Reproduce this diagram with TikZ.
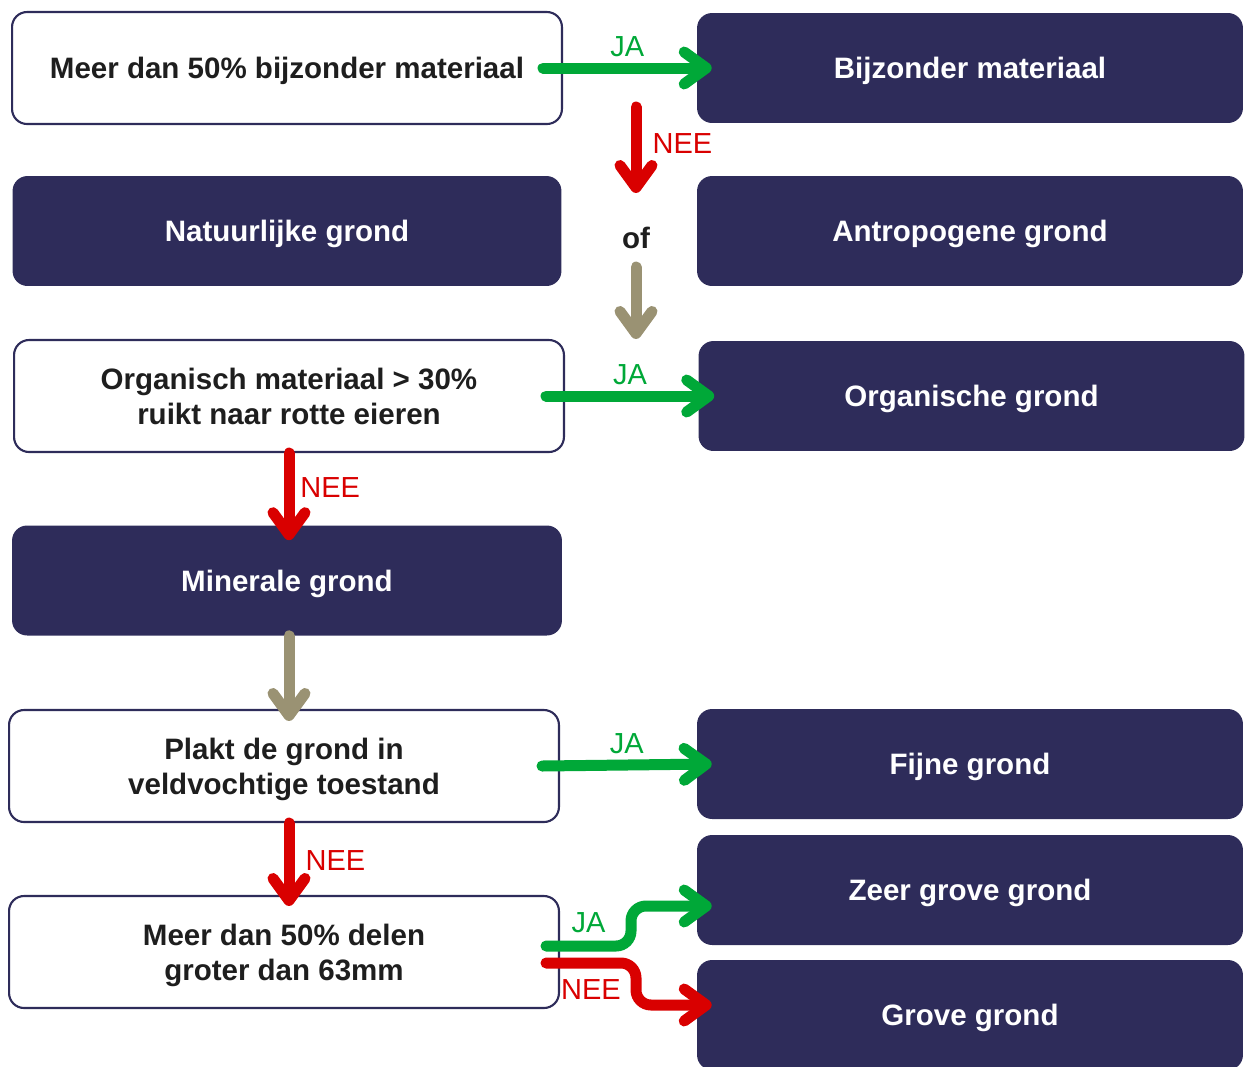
\documentclass[tikz,border=0pt]{standalone}
\usepackage{fontspec}
\setmainfont{Liberation Sans}
\usepackage{xcolor}
\usetikzlibrary{arrows.meta}

\definecolor{donkerblauw}{HTML}{2E2C5A}
\definecolor{groen}{HTML}{00A838}
\definecolor{rood}{HTML}{D90000}
\definecolor{grijs}{HTML}{9A9273}
\definecolor{tekst}{HTML}{1E1E1E}

\begin{document}
\begin{tikzpicture}[x=0.02cm, y=-0.02cm,
  vraag/.style={draw=donkerblauw, line width=1.2pt, fill=white, rounded corners=0.3cm,
    minimum width=11cm, minimum height=2.24cm, align=center, text=tekst, text depth=0pt,
    font=\bfseries\fontsize{16.8}{20}\selectfont},
  uitkomst/.style={fill=donkerblauw, rounded corners=0.3cm, minimum width=10.92cm,
    minimum height=2.2cm, align=center, text=white, text depth=0pt,
    font=\bfseries\fontsize{16.8}{20}\selectfont},
  pijl/.style={line width=0.22cm, line cap=round,
    -{Straight Barb[length=4.4mm, width=6.4mm, round]}},
  ja/.style={pijl, draw=groen},
  nee/.style={pijl, draw=rood},
  verder/.style={pijl, draw=grijs},
  jatekst/.style={text=groen, font=\fontsize{16.5}{18}\selectfont},
  neetekst/.style={text=rood, font=\fontsize{16.5}{18}\selectfont}]

  % pagina zoals het origineel
  \clip (0,0) rectangle (1245,1066);

  % bovenste rij
  \node[vraag] (bijz) at (287,68) {Meer dan 50\% bijzonder materiaal};
  \node[uitkomst] (bijzmat) at (970,68) {Bijzonder materiaal};

  \node[uitkomst, minimum width=10.98cm] (natuur) at (287,231) {Natuurlijke grond};
  \node[uitkomst] (antro) at (970,231) {Antropogene grond};
  \node[text=tekst, font=\bfseries\fontsize{16.8}{20}\selectfont] (of) at (636,238) {of};

  % organisch
  \node[vraag] (org) at (289,396) {Organisch materiaal > 30\%\\ruikt naar rotte eieren};
  \node[uitkomst] (orggrond) at (971.5,396) {Organische grond};

  \node[uitkomst, minimum width=11cm] (mineraal) at (287,580.5) {Minerale grond};

  % textuur
  \node[vraag] (plakt) at (284,766) {Plakt de grond in\\veldvochtige toestand};
  \node[uitkomst] (fijn) at (970,764) {Fijne grond};

  \node[vraag] (groot) at (284,952) {Meer dan 50\% delen\\groter dan 63mm};
  \node[uitkomst] (zeergrof) at (970,890) {Zeer grove grond};
  \node[uitkomst] (grof) at (970,1015) {Grove grond};

  % pijlen
  \coordinate (neestart) at (636,107);
  \coordinate (splitja) at (631,952);
  \coordinate (splitnee) at (636,952);

  \draw[ja] ([xshift=-0.4cm]bijz.east) -- ([xshift=0.3cm]bijzmat.west)
    node[midway, above=0pt, jatekst] {JA};
  \draw[nee, shorten >=0.56cm] (neestart) -- (of.north)
    node[pos=0.32, right=3pt, neetekst] {NEE};
  \draw[verder, shorten <=0.24cm] (of.south) -- (of |- org.north);

  \draw[ja] ([xshift=-0.38cm]org.east) -- ([xshift=0.32cm]orggrond.west)
    node[midway, above=0pt, jatekst] {JA};
  \draw[nee] (org.south) -- ([yshift=-0.3cm]org.south |- mineraal.north)
    node[pos=0.4, right=0pt, neetekst] {NEE};
  \draw[verder] (org.south |- mineraal.south) -- ([yshift=-0.24cm]org.south |- plakt.north);

  \draw[ja] ([xshift=-0.36cm]plakt.east) -- ([xshift=0.3cm]fijn.west)
    node[midway, above=0pt, jatekst] {JA};
  \draw[nee] (org.south |- plakt.south) -- ([yshift=-0.22cm]org.south |- groot.north)
    node[pos=0.45, right=3pt, neetekst] {NEE};

  % splitsing onderaan
  \coordinate (jabegin) at ([xshift=-0.28cm, yshift=0.12cm]groot.east);
  \coordinate (jaeind) at ([xshift=0.3cm, yshift=-0.32cm]zeergrof.west);
  \coordinate (neebegin) at ([xshift=-0.28cm, yshift=-0.22cm]groot.east);
  \coordinate (neeeind) at ([xshift=0.3cm, yshift=0.2cm]grof.west);

  \draw[ja, rounded corners=0.3cm] (jabegin) -- (jabegin -| splitja)
    node[midway, above=1pt, jatekst] {JA}
    -- (splitja |- jaeind) -- (jaeind);
  \draw[nee, rounded corners=0.3cm] (neebegin) -- (neebegin -| splitnee)
    node[midway, below=3pt, neetekst] {NEE}
    -- (splitnee |- neeeind) -- (neeeind);
\end{tikzpicture}
\end{document}
